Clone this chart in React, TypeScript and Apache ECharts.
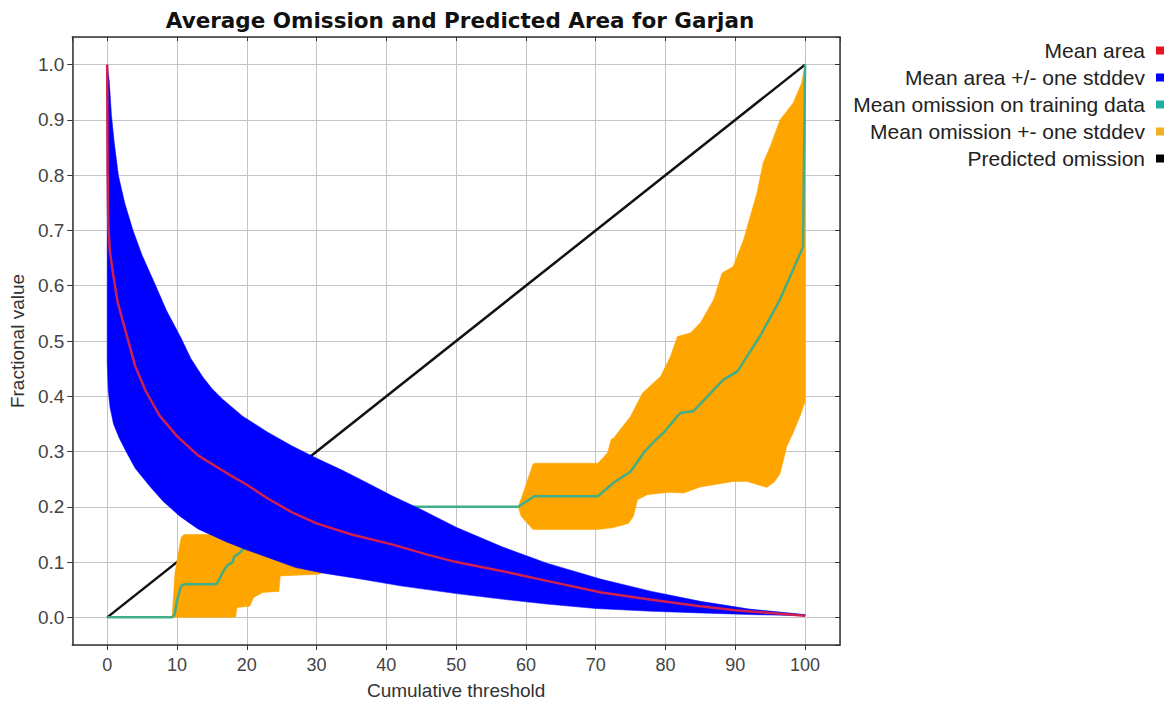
import React, { useEffect, useRef } from "react";
import * as echarts from "echarts";

// ---- Data ----
const meanAreaX = [0, 0.05, 0.15, 0.4, 0.86, 1.5, 2.7, 4, 5.5, 7.5, 10, 13, 17, 20, 23, 26.5, 30, 35, 40.8, 46, 50, 56.5, 63, 70.8, 78, 85, 90, 95, 100];
const meanAreaY = [1.0, 0.82, 0.71, 0.66, 0.62, 0.57, 0.515, 0.455, 0.41, 0.365, 0.328, 0.293, 0.262, 0.24, 0.215, 0.19, 0.17, 0.15, 0.132, 0.113, 0.1, 0.084, 0.066, 0.045, 0.032, 0.02, 0.013, 0.008, 0.003];

const areaUpperX = [0, 0.3, 0.6, 1.0, 1.6, 2.5, 3.7, 5, 6.6, 8.5, 10.6, 12, 13.7, 15, 16.5, 19.4, 23, 26.5, 30, 33.7, 37, 40.8, 45, 50, 56.5, 63, 70.8, 78, 85, 92, 100];
const areaUpperY = [1.0, 0.97, 0.91, 0.86, 0.8, 0.75, 0.7, 0.655, 0.61, 0.555, 0.505, 0.468, 0.435, 0.414, 0.395, 0.364, 0.335, 0.31, 0.288, 0.266, 0.245, 0.22, 0.195, 0.163, 0.128, 0.098, 0.069, 0.047, 0.029, 0.015, 0.005];
const areaLowerX = [0, 0.15, 0.4, 0.9, 1.7, 2.7, 4, 6.1, 8, 10.4, 13, 17, 20, 24, 27, 31, 36.5, 42, 50, 56.5, 63, 70, 78, 85, 92, 100];
const areaLowerY = [0.46, 0.41, 0.38, 0.35, 0.325, 0.3, 0.27, 0.237, 0.21, 0.183, 0.16, 0.137, 0.122, 0.104, 0.09, 0.08, 0.069, 0.057, 0.043, 0.033, 0.024, 0.016, 0.011, 0.008, 0.005, 0.003];

const omissionX = [0, 9.3, 9.65, 10.1, 10.6, 11.1, 15.6, 15.8, 16.3, 16.8, 17.3, 18, 18.2, 19, 19.4, 25, 32, 38, 42, 58.9, 61.2, 70.3, 72.6, 75, 77, 78.5, 79.8, 81.7, 82.2, 84, 88.3, 90.3, 93.6, 96.4, 99.7, 100];
const omissionY = [0, 0, 0.005, 0.035, 0.057, 0.06, 0.06, 0.063, 0.075, 0.087, 0.095, 0.1, 0.11, 0.117, 0.123, 0.15, 0.18, 0.2, 0.2, 0.2, 0.219, 0.219, 0.244, 0.264, 0.3, 0.32, 0.335, 0.364, 0.37, 0.373, 0.43, 0.445, 0.51, 0.575, 0.67, 1.0];

// omission +- stddev, first block
const om1UpperX = [9.3, 9.5, 9.7, 10.1, 10.6, 11, 16.5, 17.5, 20, 30, 40, 42];
const om1UpperY = [0, 0.04, 0.08, 0.11, 0.145, 0.15, 0.15, 0.165, 0.2, 0.21, 0.2, 0.2];
const om1LowerX = [9.3, 18.4, 18.6, 20.4, 21, 22.3, 24.6, 24.8, 30.4, 31.5, 34, 38, 42];
const om1LowerY = [0, 0, 0.018, 0.02, 0.036, 0.045, 0.047, 0.075, 0.078, 0.085, 0.13, 0.19, 0.2];
// omission +- stddev, second block
const om2UpperX = [58.9, 59.6, 61, 61.3, 70.3, 71.7, 72.2, 72.6, 75, 76.7, 79.3, 80.7, 81.7, 83.6, 85, 86.9, 88.1, 89.7, 91.2, 93.1, 94, 95, 96.4, 98.3, 99.5, 100];
const om2UpperY = [0.2, 0.225, 0.277, 0.279, 0.279, 0.298, 0.322, 0.325, 0.364, 0.406, 0.436, 0.472, 0.508, 0.515, 0.533, 0.575, 0.623, 0.635, 0.684, 0.768, 0.823, 0.852, 0.9, 0.931, 0.967, 1.0];
const om2LowerX = [58.9, 59.3, 61, 70.3, 72.4, 74.7, 75.4, 76, 77.4, 80.3, 82.6, 85, 89.8, 91.7, 94.5, 95.6, 96.4, 97.4, 98.3, 99.3, 100];
const om2LowerY = [0.2, 0.183, 0.159, 0.159, 0.162, 0.17, 0.183, 0.213, 0.222, 0.226, 0.225, 0.236, 0.246, 0.246, 0.235, 0.245, 0.26, 0.31, 0.334, 0.365, 0.39];

const predictedX = [0, 100];
const predictedY = [0, 1];

const legendNames = [
  "Mean area",
  "Mean area +/- one stddev",
  "Mean omission on training data",
  "Mean omission +- one stddev",
  "Predicted omission",
];

const zip = (xs: number[], ys: number[]) => xs.map((x, i) => [x, ys[i]]);

const C_RED = "#d0204e";
const C_BLUE = "#0000ff";
const C_TEAL = "#42ad86";
const C_ORANGE = "#ffa500";
const C_BLACK = "#111111";

function bandPolygons(
  blocks: { ux: number[]; uy: number[]; lx: number[]; ly: number[] }[],
  color: string
) {
  return (params: any, api: any) => {
    if (params.dataIndex !== 0) return null;
    const children = blocks.map((b) => {
      const pts: number[][] = [];
      for (let i = 0; i < b.ux.length; i++) pts.push(api.coord([b.ux[i], b.uy[i]]));
      for (let i = b.lx.length - 1; i >= 0; i--) pts.push(api.coord([b.lx[i], b.ly[i]]));
      return { type: "polygon", shape: { points: pts }, style: { fill: color, stroke: color, lineWidth: 0.5 } };
    });
    return { type: "group", children };
  };
}

export default function App() {
  const ref = useRef<HTMLDivElement>(null);
  useEffect(() => {
    if (!ref.current) return;
    const chart = echarts.init(ref.current, null, { renderer: "svg" });
    const font = "'Liberation Sans', Arial, sans-serif";
    const axisCommon = {
      type: "value" as const,
      splitNumber: 11,
    };
    chart.setOption({
      animation: false,
      backgroundColor: "#ffffff",
      title: {
        text: "Average Omission and Predicted Area for Garjan",
        left: 455,
        top: 4,
        textAlign: "center",
        textStyle: { fontFamily: "'DejaVu Sans', sans-serif", fontWeight: "bold", fontSize: 21.5, color: "#111" },
      },
      legend: {
        orient: "vertical",
        right: 0,
        top: 35,
        align: "right",
        itemGap: 6,
        itemWidth: 8,
        itemHeight: 8,
        icon: "rect",
        textStyle: { fontFamily: font, fontSize: 21, color: "#222", padding: [0, 6, 0, 0] },
        data: [
          { name: legendNames[0], itemStyle: { color: "#e8121e", borderWidth: 0 } },
          { name: legendNames[1], itemStyle: { color: C_BLUE, borderWidth: 0 } },
          { name: legendNames[2], itemStyle: { color: "#1fb0a0", borderWidth: 0 } },
          { name: legendNames[3], itemStyle: { color: "#f0b020", borderWidth: 0 } },
          { name: legendNames[4], itemStyle: { color: "#000", borderWidth: 0 } },
        ],
      },
      grid: { left: 68, right: 329, top: 37, bottom: 64, containLabel: false },
      xAxis: [
        {
          ...axisCommon,
          min: -5,
          max: 105,
          position: "bottom",
          name: "Cumulative threshold",
          nameLocation: "middle",
          nameGap: 36,
          nameTextStyle: { fontFamily: font, fontSize: 19, color: "#333" },
          axisLine: { show: true, onZero: false, lineStyle: { color: "#333", width: 1.5 } },
          axisTick: { show: true, length: 5, lineStyle: { color: "#333" } },
          axisLabel: {
            showMinLabel: false,
            showMaxLabel: false,
            margin: 11,
            fontFamily: font,
            fontSize: 18,
            color: "#444",
          },
          splitLine: { show: true, lineStyle: { color: "#c4c4c4", width: 1 } },
        },
        {
          ...axisCommon,
          min: -5,
          max: 105,
          position: "top",
          axisLine: { show: true, onZero: false, lineStyle: { color: "#333", width: 1.5 } },
          axisTick: { show: true, inside: true, length: 4, lineStyle: { color: "#333" } },
          axisLabel: { show: false },
          splitLine: { show: false },
        },
      ],
      yAxis: [
        {
          ...axisCommon,
          min: -0.05,
          max: 1.05,
          position: "left",
          name: "Fractional value",
          nameLocation: "middle",
          nameGap: 40,
          nameTextStyle: { fontFamily: font, fontSize: 19, color: "#333" },
          axisLine: { show: true, onZero: false, lineStyle: { color: "#333", width: 1.5 } },
          axisTick: { show: true, length: 5, lineStyle: { color: "#333" } },
          axisLabel: {
            showMinLabel: false,
            showMaxLabel: false,
            margin: 8,
            fontFamily: font,
            fontSize: 19,
            color: "#444",
            formatter: (v: number) => v.toFixed(1),
          },
          splitLine: { show: true, lineStyle: { color: "#c4c4c4", width: 1 } },
        },
        {
          ...axisCommon,
          min: -0.05,
          max: 1.05,
          position: "right",
          axisLine: { show: true, onZero: false, lineStyle: { color: "#333", width: 1.5 } },
          axisTick: { show: true, inside: true, length: 5, lineStyle: { color: "#333" } },
          axisLabel: { show: false },
          splitLine: { show: false },
        },
      ],
      series: [
        {
          name: legendNames[4],
          type: "line",
          z: 1,
          data: zip(predictedX, predictedY),
          symbol: "none",
          itemStyle: { color: C_BLACK },
          lineStyle: { color: C_BLACK, width: 2.5 },
          silent: true,
        },
        {
          name: legendNames[3],
          type: "custom",
          z: 2,
          coordinateSystem: "cartesian2d",
          data: [[om1UpperX[0], om1UpperY[0]]],
          encode: { x: 0, y: 1 },
          itemStyle: { color: C_ORANGE },
          renderItem: bandPolygons(
            [
              { ux: om1UpperX, uy: om1UpperY, lx: om1LowerX, ly: om1LowerY },
              { ux: om2UpperX, uy: om2UpperY, lx: om2LowerX, ly: om2LowerY },
            ],
            C_ORANGE
          ),
          silent: true,
        },
        {
          name: legendNames[2],
          type: "line",
          z: 3,
          data: zip(omissionX, omissionY),
          symbol: "none",
          itemStyle: { color: C_TEAL },
          lineStyle: { color: C_TEAL, width: 2.5 },
          silent: true,
        },
        {
          name: legendNames[1],
          type: "custom",
          z: 4,
          coordinateSystem: "cartesian2d",
          data: [[areaUpperX[0], areaUpperY[0]]],
          encode: { x: 0, y: 1 },
          itemStyle: { color: C_BLUE },
          renderItem: bandPolygons([{ ux: areaUpperX, uy: areaUpperY, lx: areaLowerX, ly: areaLowerY }], C_BLUE),
          silent: true,
        },
        {
          name: legendNames[0],
          type: "line",
          z: 5,
          data: zip(meanAreaX, meanAreaY),
          symbol: "none",
          itemStyle: { color: C_RED },
          lineStyle: { color: C_RED, width: 2.5 },
          silent: true,
        },
      ],
    });
    return () => chart.dispose();
  }, []);
  return (
    <div
      ref={ref}
      style={{ position: "fixed", left: 0, top: 0, width: 1169, height: 709, background: "#fff" }}
    />
  );
}
